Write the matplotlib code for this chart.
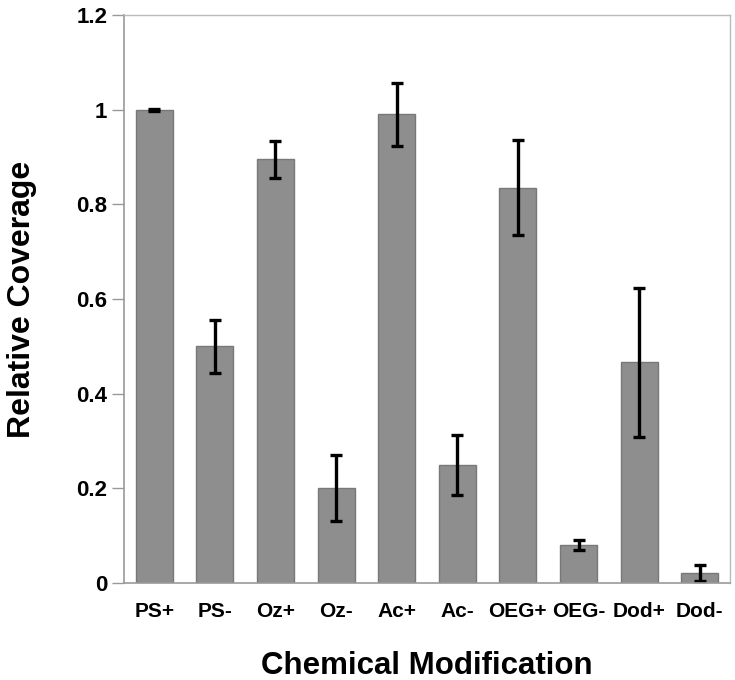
import matplotlib
matplotlib.use("Agg")
import matplotlib.pyplot as plt
import numpy as np

categories = ["PS+", "PS-", "Oz+", "Oz-", "Ac+", "Ac-", "OEG+", "OEG-", "Dod+", "Dod-"]
coverage = [1.0, 0.50, 0.895, 0.20, 0.99, 0.25, 0.835, 0.08, 0.466, 0.022]
errors = [0.002, 0.056, 0.039, 0.07, 0.066, 0.063, 0.10, 0.011, 0.157, 0.017]
yticks = [0, 0.2, 0.4, 0.6, 0.8, 1.0, 1.2]
ytick_labels = ["0", "0.2", "0.4", "0.6", "0.8", "1", "1.2"]

plt.rcParams["font.family"] = ["Liberation Sans", "DejaVu Sans"]

fig = plt.figure(figsize=(7.35, 6.8), dpi=100)
ax = fig.add_axes([0.1687, 0.1426, 0.8245, 0.8354])

x = np.arange(len(categories))
ax.bar(x, coverage, width=0.61, color="#8e8e8e", edgecolor="#787878", linewidth=1.0)
ax.errorbar(x, coverage, yerr=errors, fmt="none", ecolor="black",
            elinewidth=2.4, capsize=4, capthick=2.4)

ax.set_xlim(-0.5, len(categories) - 0.5)
ax.set_ylim(0, 1.2)
ax.set_yticks(yticks)
ax.set_yticklabels(ytick_labels, fontsize=16, fontweight="bold")
ax.set_xticks(x)
ax.set_xticklabels(categories, fontsize=15, fontweight="bold")
ax.tick_params(axis="x", length=0, pad=14)
ax.tick_params(axis="y", length=9, color="#999999", width=1, pad=3)

for side in ["left", "bottom"]:
    ax.spines[side].set_color("#999999")
    ax.spines[side].set_linewidth(1.2)
for side in ["top", "right"]:
    ax.spines[side].set_color("#bbbbbb")
    ax.spines[side].set_linewidth(1.0)

ax.set_xlabel("Chemical Modification", fontsize=22.5, fontweight="bold", labelpad=21)
ax.set_ylabel("Relative Coverage", fontsize=23, fontweight="bold", labelpad=28)

fig.savefig("out.png", dpi=100)
